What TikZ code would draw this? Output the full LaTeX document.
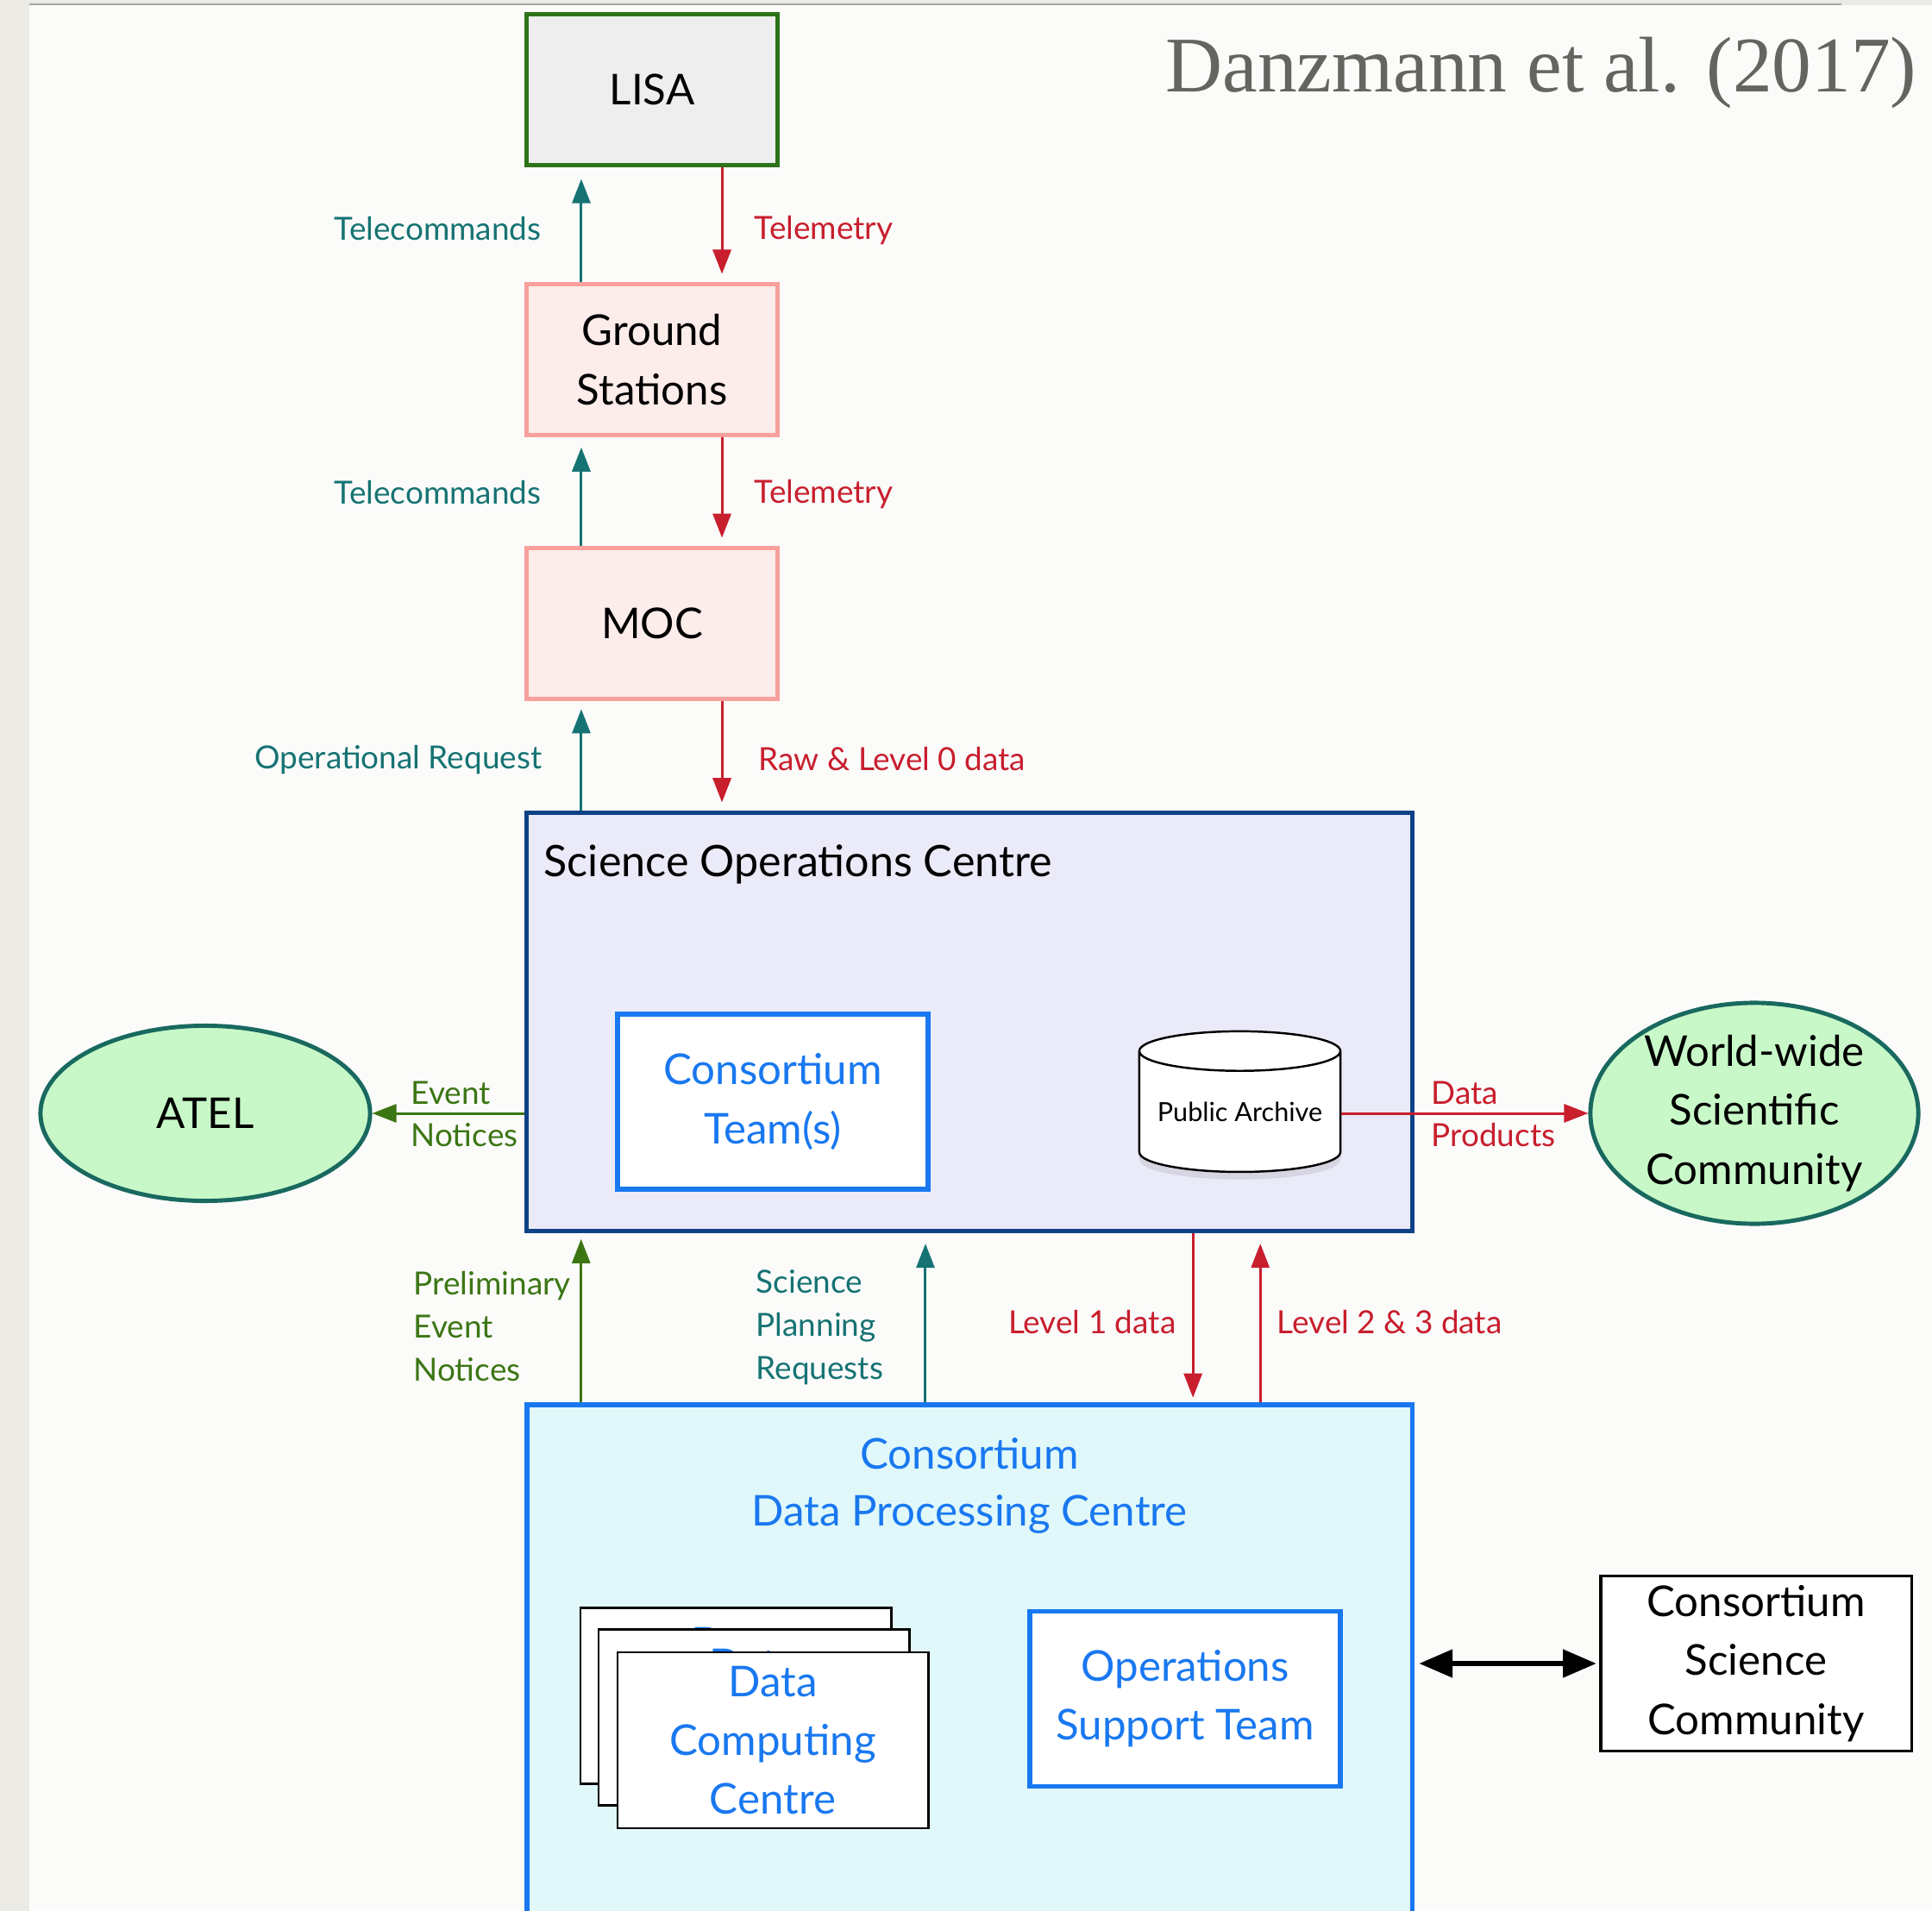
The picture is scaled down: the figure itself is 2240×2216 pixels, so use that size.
\documentclass[tikz,border=0pt]{standalone}
\usepackage{fontspec}
\setmainfont{Lato}
\newfontfamily\titlefont{Liberation Serif}
\usetikzlibrary{arrows.meta,shapes.geometric,shadows}

\definecolor{cteal}{RGB}{22,115,115}
\definecolor{cred}{RGB}{200,30,45}
\definecolor{cgreen}{RGB}{60,118,20}
\definecolor{lisagreen}{RGB}{45,115,25}
\definecolor{lisafill}{RGB}{238,238,238}
\definecolor{pinkline}{RGB}{248,160,155}
\definecolor{pinkfill}{RGB}{252,236,234}
\definecolor{socline}{RGB}{15,65,135}
\definecolor{socfill}{RGB}{234,234,248}
\definecolor{bblue}{RGB}{25,120,240}
\definecolor{dpcfill}{RGB}{224,248,250}
\definecolor{ellfill}{RGB}{200,248,200}
\definecolor{ellline}{RGB}{25,105,95}
\definecolor{pagebg}{RGB}{251,251,250}
\definecolor{stripbg}{RGB}{236,234,228}
\definecolor{titlegrey}{RGB}{100,100,96}

\begin{document}
\begin{tikzpicture}[x=0.01cm,y=-0.01cm,
  bigtxt/.style={font=\fontsize{14}{19.4}\selectfont, align=center, inner sep=0pt},
  lbl/.style={font=\fontsize{10.5}{14}\selectfont, inner sep=0pt, align=left},
  lisabox/.style={bigtxt, rectangle, draw=lisagreen, fill=lisafill, line width=1.4pt, minimum width=2.9cm, minimum height=1.74cm},
  pinkbox/.style={bigtxt, rectangle, draw=pinkline, fill=pinkfill, line width=1.4pt, minimum width=2.9cm, minimum height=1.74cm},
  bluebox/.style={bigtxt, rectangle, draw=bblue, fill=white, text=bblue, line width=1.6pt, minimum width=3.6cm, minimum height=2.03cm},
  stackbox/.style={bigtxt, rectangle, draw=black, fill=white, text=bblue, line width=0.8pt, minimum width=3.6cm, minimum height=2.04cm},
  blackbox/.style={bigtxt, rectangle, draw=black, fill=white, line width=0.9pt, minimum width=3.6cm, minimum height=2.03cm},
  ellnode/.style={bigtxt, ellipse, draw=ellline, fill=ellfill, line width=1.4pt},
  arr/.style={line width=0.85pt, -{Triangle[length=8pt,width=6pt]}},
  tcarr/.style={arr, color=cteal},
  rdarr/.style={arr, color=cred},
  gnarr/.style={arr, color=cgreen},
  dblarr/.style={line width=1.6pt, {Triangle[length=11pt,width=9pt]}-{Triangle[length=11pt,width=9pt]}, color=black}
]
\clip (0,0) rectangle (2240,2216);
\fill[stripbg] (0,0) rectangle (2240,2216);
\fill[pagebg] (34,6) rectangle (2240,2216);
\draw[black!35, line width=0.6pt] (34,5) -- (2135,5);

% title
\node[anchor=base east, font=\titlefont\fontsize{26}{31}\selectfont, text=titlegrey, inner sep=0pt] (ttl) at (2223,107) {Danzmann et al. (2017)};

% top chain
\node[lisabox] (lisa) at (756,104) {LISA};
\node[pinkbox] (gs) at (756,417) {Ground\\Stations};
\node[pinkbox] (moc) at (756,723) {MOC};

% SOC
\node[rectangle, draw=socline, fill=socfill, line width=1.5pt, minimum width=10.26cm, minimum height=4.84cm, inner sep=0pt] (soc) at (1124,1185) {};
\node[bigtxt, anchor=west, font=\fontsize{14.3}{19}\selectfont] (soctitle) at (630,1002) {Science Operations Centre};
\node[bluebox] (team) at (896,1277.5) {Consortium\\Team(s)};
\node[cylinder, shape border rotate=90, aspect=0.24, minimum width=2.33cm, minimum height=1.63cm, draw=black, line width=0.7pt, fill=white, inner sep=0pt, font=\fontsize{8.7}{10}\selectfont, drop shadow={shadow xshift=0pt, shadow yshift=-2.5pt, opacity=0.18}] (arch) at (1437.5,1289.5) {Public Archive};

% ellipses
\node[ellnode, minimum width=3.82cm, minimum height=2.03cm] (atel) at (238,1291) {ATEL};
\node[ellnode, minimum width=3.80cm, minimum height=2.52cm] (www) at (2034,1291) {World-wide\\Scientific\\Community};

% DPC
\node[rectangle, draw=bblue, fill=dpcfill, line width=1.6pt, minimum width=10.26cm, minimum height=6.71cm, inner sep=0pt] (dpc) at (1124,1964.5) {};
\node[bigtxt, text=bblue, font=\fontsize{14}{18.7}\selectfont] (dpctitle) at (1124,1723) {Consortium\\Data Processing Centre};
\node[stackbox] (dcc3) at (853,1966.5) {};
\node[bigtxt, text=bblue, anchor=base] (dcc3t) at (853,1922) {Data};
\node[stackbox] (dcc2) at (874,1991.5) {};
\node[bigtxt, text=bblue, anchor=base] (dcc2t) at (874,1947) {Data};
\node[stackbox] (dcc1) at (896,2018) {Data\\Computing\\Centre};
\node[bluebox] (ost) at (1374,1970) {Operations\\Support Team};
\node[blackbox] (csc) at (2036,1929) {Consortium\\Science\\Community};

% helper coordinates
\coordinate (mocl) at ([xshift=-0.82cm]moc.south);
\coordinate (mocr) at ([xshift=0.81cm]moc.south);

% arrows top
\draw[tcarr, shorten >=4pt] ([xshift=-0.82cm]gs.north) -- ([xshift=-0.82cm]lisa.south);
\draw[rdarr, shorten >=2.8pt] ([xshift=0.81cm]lisa.south) -- ([xshift=0.81cm]gs.north);
\draw[tcarr, shorten >=3.5pt] ([xshift=-0.82cm]moc.north) -- ([xshift=-0.82cm]gs.south);
\draw[rdarr, shorten >=2.8pt] ([xshift=0.81cm]gs.south) -- ([xshift=0.81cm]moc.north);
\draw[tcarr, shorten >=2.8pt] (mocl |- soc.north) -- (mocl);
\draw[rdarr, shorten >=2.8pt] (mocr) -- (mocr |- soc.north);

\node[lbl, text=cteal, anchor=east] (l1) at (628,265) {Telecommands};
\node[lbl, text=cred, anchor=west] (l2) at (874,267) {Telemetry};
\node[lbl, text=cteal, anchor=east] (l3) at (628,571) {Telecommands};
\node[lbl, text=cred, anchor=west] (l4) at (874,573) {Telemetry};
\node[lbl, text=cteal, anchor=east] (l5) at (629,881) {Operational Request};
\node[lbl, text=cred, anchor=west] (l6) at (879,880) {Raw \& Level 0 data};

% side arrows
\draw[gnarr] (soc.west |- atel.east) -- (atel.east);
\node[lbl, text=cgreen, anchor=west, font=\fontsize{10.5}{13.8}\selectfont] (l7) at (476,1292) {Event\\Notices};
\draw[rdarr] (arch.east |- www.west) -- (www.west);
\node[lbl, text=cred, anchor=west, font=\fontsize{10.5}{13.8}\selectfont] (l8) at (1659,1292) {Data\\Products};

% bottom arrows
\draw[gnarr, shorten >=2pt] ([xshift=-4.5cm]dpc.north) -- ([xshift=-4.5cm]soc.south);
\draw[tcarr, shorten >=3.5pt] ([xshift=-0.51cm]dpc.north) -- ([xshift=-0.51cm]soc.south);
\draw[rdarr, shorten >=1.5pt] ([xshift=2.59cm]soc.south) -- ([xshift=2.59cm]dpc.north);
\draw[rdarr, shorten >=3.5pt] ([xshift=3.37cm]dpc.north) -- ([xshift=3.37cm]soc.south);
\node[lbl, text=cgreen, anchor=west, font=\fontsize{10.5}{14.2}\selectfont] (l9) at (479,1538) {Preliminary\\Event\\Notices};
\node[lbl, text=cteal, anchor=west, font=\fontsize{10.5}{14.2}\selectfont] (l10) at (876,1539) {Science\\Planning\\Requests};
\node[lbl, text=cred, anchor=east] (l11) at (1364,1533) {Level 1 data};
\node[lbl, text=cred, anchor=west] (l12) at (1480,1533) {Level 2 \& 3 data};

\draw[dblarr, shorten <=1.5pt, shorten >=1pt] (dpc.east |- csc.west) -- (csc.west);
\end{tikzpicture}
\end{document}
